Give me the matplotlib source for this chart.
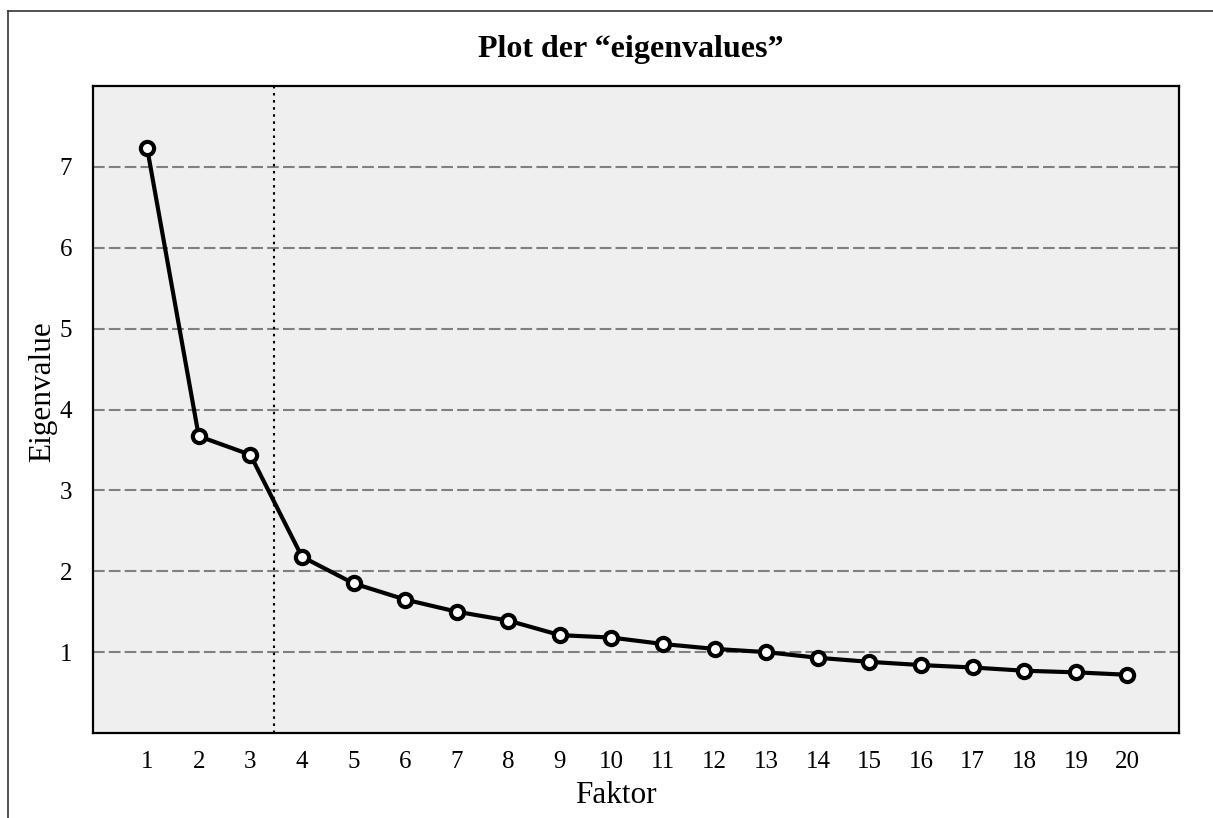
import matplotlib
matplotlib.use("Agg")
import matplotlib.pyplot as plt
from matplotlib.lines import Line2D

plt.rcParams['font.family'] = ['Liberation Serif', 'DejaVu Serif']

# Faktor / eigenvalue data
faktor = list(range(1, 21))
eigenvalues = [7.23, 3.67, 3.44, 2.18, 1.85, 1.65, 1.50, 1.39, 1.21, 1.18,
               1.10, 1.04, 1.00, 0.93, 0.88, 0.84, 0.81, 0.77, 0.75, 0.72]
y_ticks = [1, 2, 3, 4, 5, 6, 7]
cutoff = 3.45

W, H = 1213, 818
fig = plt.figure(figsize=(W / 100, H / 100), dpi=100)
ax = fig.add_axes([93 / W, 1 - 733 / H, (1179 - 93) / W, (733 - 86) / H])
ax.set_facecolor('#efefef')

for y in y_ticks:
    ax.axhline(y, color='#808080', lw=1.5, ls=(0, (5.6, 2.0)), zorder=1)
ax.axvline(cutoff, color='black', lw=1.5, ls=(0, (1.2, 2.2)), zorder=1)

ax.plot(faktor, eigenvalues, color='black', lw=3, marker='o', ms=9.5,
        mfc='white', mec='black', mew=3, zorder=3)

ax.set_xlim(-0.05, 21)
ax.set_ylim(0, 8)
ax.set_xticks(faktor)
ax.set_yticks(y_ticks)
ax.tick_params(axis='both', length=0, labelsize=18)
ax.tick_params(axis='x', pad=13)
ax.tick_params(axis='y', pad=15)
for s in ax.spines.values():
    s.set_linewidth(1.6)
    s.set_color('black')

ax.set_xlabel('Faktor', fontsize=22.5, labelpad=6)
ax.set_ylabel('Eigenvalue', fontsize=22.5, labelpad=2)
ax.xaxis.label.set_x((616 - 93) / (1179 - 93))
ax.yaxis.label.set_y((733 - 392) / (733 - 86))
ax.set_title('Plot der \u201ceigenvalues\u201d', fontsize=23, fontweight='bold', pad=21)
ax.title.set_x((631 - 93) / (1179 - 93))

# outer frame (only left and top edges visible)
fig.add_artist(Line2D([8 / W, 8 / W], [0, 1 - 11 / H], transform=fig.transFigure,
                      color='#333333', lw=1.2))
fig.add_artist(Line2D([8 / W, 1], [1 - 11 / H, 1 - 11 / H], transform=fig.transFigure,
                      color='#333333', lw=1.2))

fig.savefig('out.png', dpi=100)
